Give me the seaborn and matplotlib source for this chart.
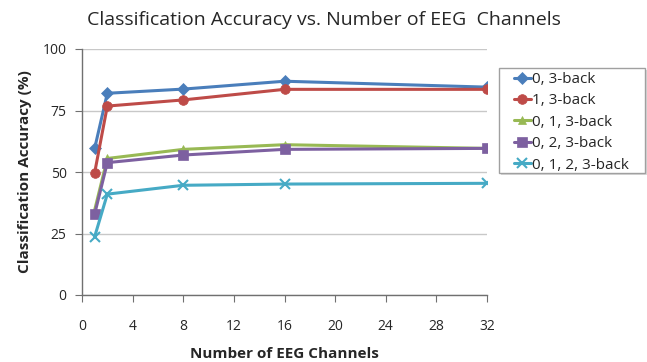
import matplotlib
matplotlib.use("Agg")
import matplotlib.pyplot as plt
from matplotlib.patches import Rectangle
import seaborn as sns
import pandas as pd

channels = [1, 2, 8, 16, 32]
acc_0 = [59.6, 82.0, 83.7, 86.9, 84.5]
acc_1 = [49.7, 76.8, 79.3, 83.6, 83.6]
acc_01 = [34.5, 55.5, 59.2, 61.1, 59.6]
acc_02 = [32.9, 53.8, 56.9, 59.2, 59.6]
acc_012 = [23.7, 41.0, 44.6, 45.1, 45.4]

series_names = ["0, 3-back", "1, 3-back", "0, 1, 3-back", "0, 2, 3-back", "0, 1, 2, 3-back"]
series_values = [acc_0, acc_1, acc_01, acc_02, acc_012]
colors = ["#4a7ebb", "#be4b48", "#98b954", "#7d60a0", "#46aac5"]
markers = ["D", "o", "^", "s", "x"]
msizes = [6, 7, 6, 7, 7]

x_ticks = [0, 4, 8, 12, 16, 20, 24, 28, 32]
y_ticks = [0, 25, 50, 75, 100]

df = pd.DataFrame(
    [(c, v, n) for n, vals in zip(series_names, series_values) for c, v in zip(channels, vals)],
    columns=["channels", "accuracy", "condition"],
)

sns.set_style("white")
plt.rcParams["font.family"] = ["Open Sans", "DejaVu Sans"]

W, H = 647, 362
fig = plt.figure(figsize=(W / 100, H / 100), dpi=100)
ax = fig.add_axes([82 / W, 1 - 295 / H, (487 - 82) / W, (295 - 49) / H])

for name, col, mk, ms in zip(series_names, colors, markers, msizes):
    sub = df[df["condition"] == name]
    sns.lineplot(
        data=sub, x="channels", y="accuracy", ax=ax, color=col, marker=mk,
        markersize=ms, markeredgecolor=col, markeredgewidth=1.5 if mk == "x" else 0.5,
        linewidth=2.2, label=name, zorder=3,
    )

ax.set_xlim(0, 32)
ax.set_ylim(0, 100)
ax.set_xticks(x_ticks)
ax.set_yticks(y_ticks)
ax.set_xticklabels([str(t) for t in x_ticks], fontsize=10)
ax.set_yticklabels([str(t) for t in y_ticks], fontsize=10)
ax.yaxis.grid(True, color="#c8c8c8", linewidth=1)
ax.xaxis.grid(False)
for s in ["top", "right"]:
    ax.spines[s].set_visible(False)
for s in ["left", "bottom"]:
    ax.spines[s].set_color("#707070")
    ax.spines[s].set_linewidth(1)
ax.tick_params(axis="both", which="major", direction="out", length=5, color="#707070",
               left=True, bottom=True, pad=12)
ax.tick_params(axis="y", pad=6)

ax.set_xlabel("Number of EEG Channels", fontsize=11, fontweight="bold", labelpad=10)
ax.set_ylabel("Classification Accuracy (%)", fontsize=11, fontweight="bold", labelpad=8)
fig.text(0.5, 1 - 20 / H, "Classification Accuracy vs. Number of EEG  Channels",
         ha="center", va="center", fontsize=14)

# legend entries without a frame, boxed by a separate rectangle behind them
leg = ax.legend(loc="upper left", bbox_to_anchor=(514 / W, 1 - 72 / H),
                bbox_transform=fig.transFigure, frameon=False, fontsize=11,
                handlelength=1.1, handletextpad=0.1, borderpad=0, labelspacing=0.42,
                borderaxespad=0)
fig.patches.append(Rectangle((501 / W, 1 - 175 / H), 146 / W, 105 / H,
                             transform=fig.transFigure, facecolor="#d9d9d9",
                             edgecolor="none", zorder=-2))
fig.patches.append(Rectangle((499 / W, 1 - 173 / H), 146 / W, 105 / H,
                             transform=fig.transFigure, facecolor="white",
                             edgecolor="#a0a0a0", linewidth=1, zorder=-1))

fig.savefig("out.png", dpi=100)
